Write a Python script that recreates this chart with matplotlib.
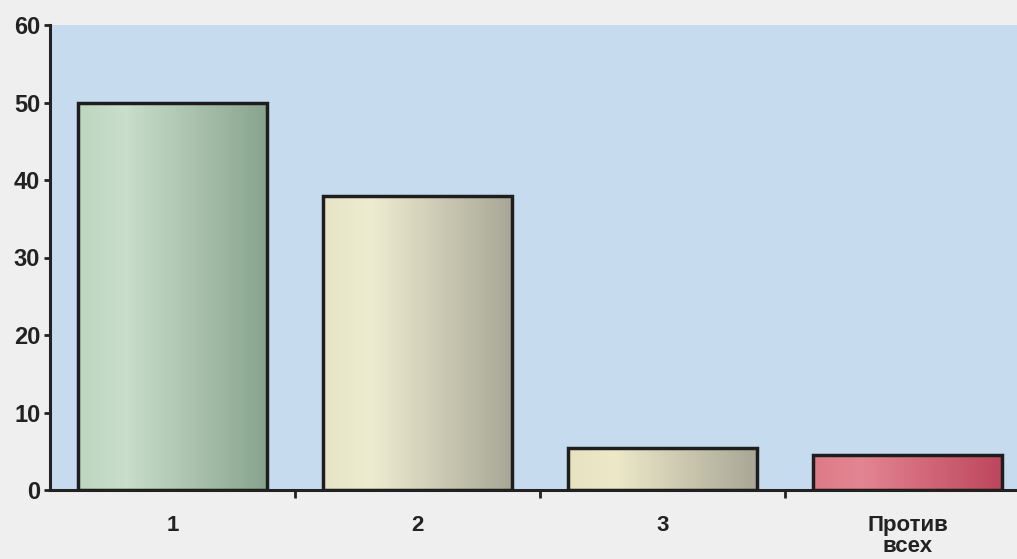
import numpy as np
import matplotlib
matplotlib.use("Agg")
import matplotlib.pyplot as plt
from matplotlib.colors import LinearSegmentedColormap

categories = ["1", "2", "3", "Против\nвсех"]
values = [50, 38, 5.4, 4.5]
yticks = [0, 10, 20, 30, 40, 50, 60]

# left / highlight / right colours of each bar's gradient
bar_colors = [
    ("#bcd6bf", "#c9decb", "#88a48e"),
    ("#e6e4c6", "#eeecd0", "#a8a796"),
    ("#e6e2c2", "#ece8c8", "#a9a795"),
    ("#de7a88", "#e48593", "#bd465d"),
]

plt.rcParams['font.family'] = ['Liberation Sans', 'DejaVu Sans']

fig = plt.figure(figsize=(10.17, 5.59), dpi=100, facecolor="#efefef")
ax = fig.add_axes([50 / 1017, 69 / 559, 1 - 50 / 1017, 465 / 559])
ax.set_facecolor("#c6dcee")

width = 0.77
x = np.arange(len(categories))
bars = ax.bar(x, values, width=width, color="none", edgecolor="#1e1e1e",
              linewidth=2.5, zorder=3)

grad = np.linspace(0, 1, 256).reshape(1, -1)
for b, (c0, c1, c2) in zip(bars, bar_colors):
    cmap = LinearSegmentedColormap.from_list("g", [(0, c0), (0.25, c1), (1, c2)])
    bx, by = b.get_x(), b.get_y()
    im = ax.imshow(grad, cmap=cmap, aspect="auto", zorder=2,
                   extent=[bx, bx + b.get_width(), by, by + b.get_height()])
    im.set_clip_path(b)

ax.set_xlim(-0.5, -0.5 + 967 / 245)
ax.set_ylim(0, 60)
ax.set_yticks(yticks)
ax.set_xticks(x)
ax.set_xticklabels(categories, fontsize=16, fontweight="bold", color="#222222",
                   linespacing=1.0)
ax.set_xticks([0.5, 1.5, 2.5], minor=True)
ax.tick_params(axis="x", which="major", length=0, pad=18)
ax.tick_params(axis="x", which="minor", length=6, width=2, color="#222222",
               direction="out")
ax.tick_params(axis="y", length=4, width=2, color="#222222", pad=3,
               labelsize=17, labelcolor="#222222")
for lab in ax.get_yticklabels():
    lab.set_fontweight("bold")

for s in ["top", "right"]:
    ax.spines[s].set_visible(False)
for s in ["left", "bottom"]:
    ax.spines[s].set_linewidth(2.2)
    ax.spines[s].set_color("#222222")

fig.savefig("out.png", dpi=100, facecolor=fig.get_facecolor())
